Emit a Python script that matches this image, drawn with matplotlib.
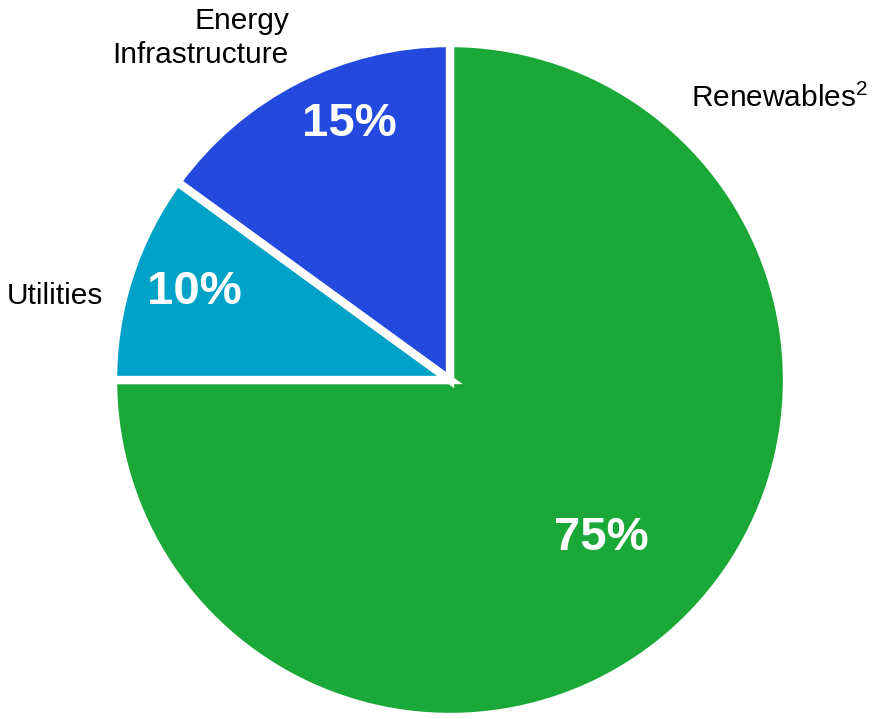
import matplotlib.pyplot as plt

plt.rcParams['font.family'] = ['Liberation Sans', 'DejaVu Sans']
plt.rcParams['mathtext.default'] = 'regular'

# Data
categories = ['Renewables$^{2}$', 'Utilities', 'Energy\nInfrastructure']
shares = [75, 10, 15]
colors = ['#1AA838', '#00A3C7', '#2349DE']

# label placement (data coords, radius=1)
pct_pos = [(0.45, -0.47), (-0.76, 0.26), (-0.30, 0.76)]
label_pos = [(0.716, 0.836, 'left'), (-1.03, 0.25, 'right'), (-0.478, 1.015, 'right')]

fig = plt.figure(figsize=(8.74, 7.19), dpi=100)
ax = fig.add_axes([(450 - 337) / 874, (719 - 380 - 337) / 719, 674 / 874, 674 / 719])

wedges, _ = ax.pie(shares, colors=colors, startangle=90, counterclock=False,
                   radius=1, wedgeprops=dict(edgecolor='white', linewidth=6))

for (x, y), v in zip(pct_pos, shares):
    ax.text(x, y, f'{v}%', ha='center', va='center', color='white',
            fontsize=34, fontweight='bold')

for (x, y, ha), name in zip(label_pos, categories):
    ax.text(x, y, name, ha=ha, va='center', color='black', fontsize=21.5,
            linespacing=1.3, clip_on=False)

ax.set_xlim(-1, 1)
ax.set_ylim(-1, 1)
ax.set_aspect('equal')
ax.axis('off')

fig.savefig('out.png', dpi=100)
